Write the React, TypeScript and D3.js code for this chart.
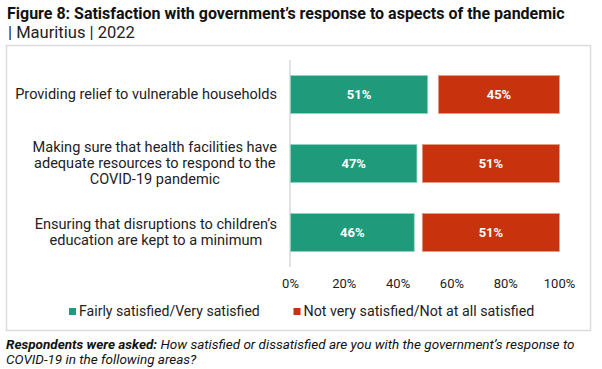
import React, { useEffect, useRef } from "react";
import * as d3 from "d3";

const titleLine1 = "Figure 8: Satisfaction with government’s response to aspects of the pandemic";
const titleLine2 = "| Mauritius | 2022";
const categories = [
  "Providing relief to vulnerable households",
  "Making sure that health facilities have adequate resources to respond to the COVID-19 pandemic",
  "Ensuring that disruptions to children’s education are kept to a minimum",
];
const categoryLines = [
  ["Providing relief to vulnerable households"],
  ["Making sure that health facilities have", "adequate resources to respond to the", "COVID-19 pandemic"],
  ["Ensuring that disruptions to children’s", "education are kept to a minimum"],
];
const satisfied = [51, 47, 46];
const notSatisfied = [45, 51, 51];
const seriesNames = ["Fairly satisfied/Very satisfied", "Not very satisfied/Not at all satisfied"];
const ticks = [0, 20, 40, 60, 80, 100];
const noteBold = "Respondents were asked:";
const noteLine1 = " How satisfied or dissatisfied are you with the government’s response to";
const noteLine2 = "COVID-19 in the following areas?";

const GREEN = "#1f9b7b";
const RED = "#c8330e";
const FONT = "Roboto, 'Open Sans', sans-serif";

function fitWidth(sel: d3.Selection<SVGTextElement, any, any, any>, base: number, target: number) {
  sel.attr("font-size", base);
  const w = (sel.node() as SVGTextElement).getComputedTextLength();
  const fs = (base * target) / w;
  sel.attr("font-size", fs);
  return fs;
}

export default function App() {
  const ref = useRef<SVGSVGElement>(null);
  useEffect(() => {
    document.body.style.margin = "0";
    const svg = d3.select(ref.current);
    svg.selectAll("*").remove();

    // title
    const t1 = svg.append("text").attr("x", 7).attr("y", 19).attr("font-family", FONT).attr("font-weight", "bold")
      .attr("fill", "#111").text(titleLine1);
    fitWidth(t1 as any, 15, 558);
    const t2 = svg.append("text").attr("x", 8).attr("y", 37.5).attr("font-family", FONT)
      .attr("fill", "#222").text(titleLine2);
    fitWidth(t2 as any, 15, 127);

    // frame
    svg.append("rect").attr("x", 6.5).attr("y", 45.5).attr("width", 584).attr("height", 285)
      .attr("fill", "white").attr("stroke", "#dcdcdc").attr("stroke-width", 1.5);

    const x = d3.scaleLinear().domain([0, 100]).range([290.5, 559.5]);
    const y = d3.scaleBand<string>().domain(categories).range([60, 267]).paddingInner(0.45).paddingOuter(0.225);

    // axis line
    svg.append("line").attr("x1", x(0) - 0.5).attr("x2", x(0) - 0.5).attr("y1", 60).attr("y2", 267)
      .attr("stroke", "#d9d9d9").attr("stroke-width", 1.5);

    // x tick labels
    svg.append("g").selectAll("text").data(ticks).join("text")
      .attr("x", (d) => x(d)).attr("y", 288).attr("text-anchor", "middle")
      .attr("font-family", FONT).attr("font-size", 13).attr("fill", "#222")
      .text((d) => `${d}%`);

    // bars
    const g = svg.append("g");
    g.selectAll("rect.sat").data(categories).join("rect").attr("class", "sat")
      .attr("x", x(0)).attr("y", (d) => y(d)!).attr("width", (_, i) => x(satisfied[i]) - x(0))
      .attr("height", y.bandwidth()).attr("fill", GREEN).attr("stroke", "#8fd3bd").attr("stroke-width", 0.8);
    g.selectAll("rect.not").data(categories).join("rect").attr("class", "not")
      .attr("x", (_, i) => x(100 - notSatisfied[i])).attr("y", (d) => y(d)!)
      .attr("width", (_, i) => x(100) - x(100 - notSatisfied[i]))
      .attr("height", y.bandwidth()).attr("fill", RED).attr("stroke", "#e89a85").attr("stroke-width", 0.8);

    g.selectAll("text.satl").data(categories).join("text").attr("class", "satl")
      .attr("x", (_, i) => (x(0) + x(satisfied[i])) / 2).attr("y", (d) => y(d)! + y.bandwidth() / 2 + 4.5)
      .attr("text-anchor", "middle").attr("font-family", FONT).attr("font-weight", "bold")
      .attr("font-size", 13).attr("fill", "white").text((_, i) => `${satisfied[i]}%`);
    g.selectAll("text.notl").data(categories).join("text").attr("class", "notl")
      .attr("x", (_, i) => (x(100 - notSatisfied[i]) + x(100)) / 2).attr("y", (d) => y(d)! + y.bandwidth() / 2 + 4.5)
      .attr("text-anchor", "middle").attr("font-family", FONT).attr("font-weight", "bold")
      .attr("font-size", 13).attr("fill", "white").text((_, i) => `${notSatisfied[i]}%`);

    // category label font size fitted on first label
    const probe = svg.append("text").attr("font-family", FONT).text(categoryLines[0][0]);
    const catFs = fitWidth(probe as any, 12, 262);
    probe.remove();

    const lineH = 16;
    const rightEdge = 277;
    categories.forEach((c, i) => {
      const lines = categoryLines[i];
      const cy = y(c)! + y.bandwidth() / 2;
      const grp = svg.append("g");
      const texts = grp.selectAll("text").data(lines).join("text")
        .attr("y", (_, j) => cy + (j - (lines.length - 1) / 2) * lineH + 4.5)
        .attr("text-anchor", "middle").attr("font-family", FONT).attr("font-size", catFs).attr("fill", "#222")
        .text((d) => d);
      let maxW = 0;
      texts.each(function () {
        maxW = Math.max(maxW, (this as SVGTextElement).getComputedTextLength());
      });
      texts.attr("x", rightEdge - maxW / 2);
    });

    // legend
    const legend = [
      { name: seriesNames[0], color: GREEN, x: 69, w: 181 },
      { name: seriesNames[1], color: RED, x: 293.5, w: 231 },
    ];
    legend.forEach((l) => {
      svg.append("rect").attr("x", l.x).attr("y", 308).attr("width", 7).attr("height", 7).attr("fill", l.color);
      const lt = svg.append("text").attr("x", l.x + 10).attr("y", 315.5).attr("font-family", FONT)
        .attr("fill", "#222").text(l.name);
      fitWidth(lt as any, 13, l.w);
    });

    // footnote
    const n1 = svg.append("text").attr("x", 6).attr("y", 349).attr("font-family", FONT)
      .attr("font-style", "italic").attr("fill", "#111");
    n1.append("tspan").attr("font-weight", "bold").text(noteBold);
    n1.append("tspan").text(noteLine1);
    const noteFs = fitWidth(n1 as any, 12, 569);
    svg.append("text").attr("x", 6).attr("y", 364).attr("font-family", FONT).attr("font-size", noteFs)
      .attr("font-style", "italic").attr("fill", "#111").text(noteLine2);
  }, []);
  return <svg ref={ref} width={602} height={369} style={{ display: "block", background: "white" }} />;
}
